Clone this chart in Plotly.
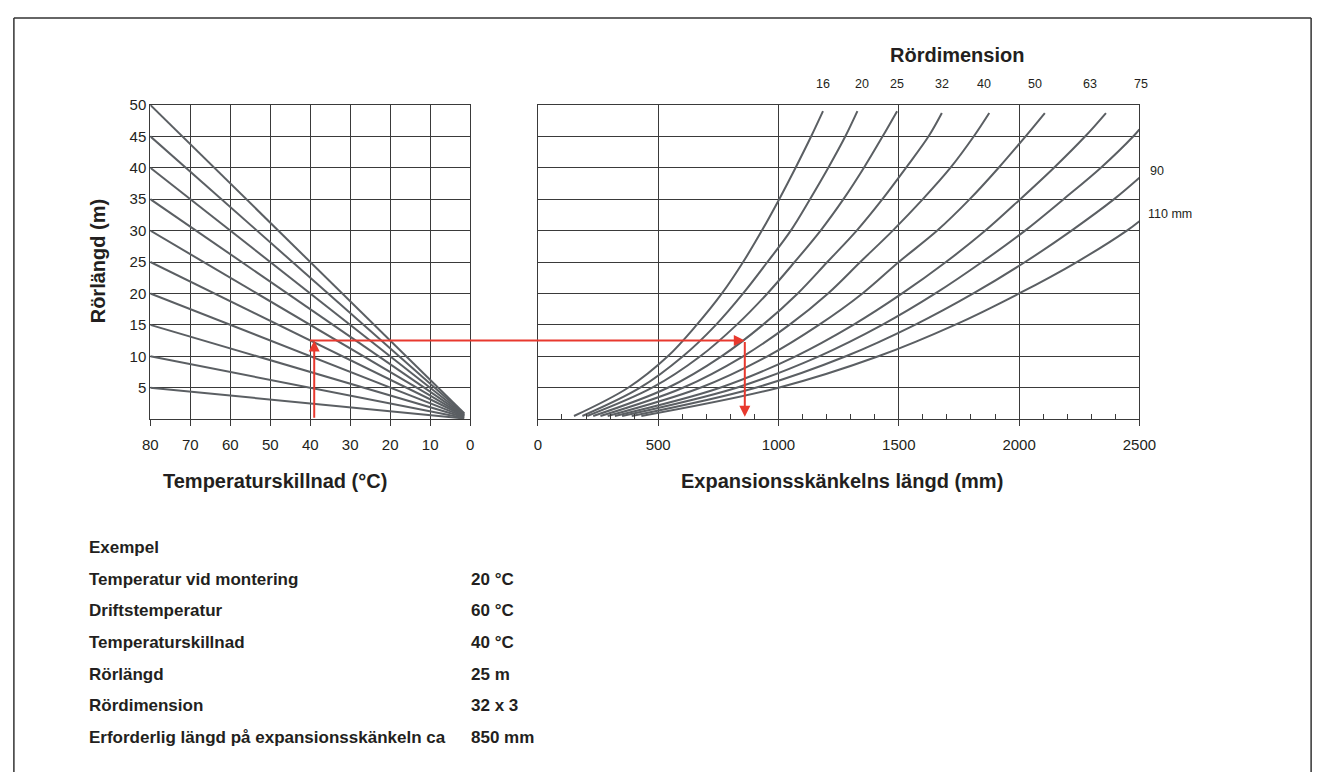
import plotly.graph_objects as go

W, H = 1334, 772

# ---------------- data ----------------
# Left chart: pipe length lines (m), running from dT=80 towards the convergence point
pipe_lengths = [5, 10, 15, 20, 25, 30, 35, 40, 45, 50]
left_start_dt = 80
left_end_dt = 1.5
left_end_y = [0.1, 0.2, 0.3, 0.4, 0.5, 0.55, 0.65, 0.75, 0.85, 0.95]

# Right chart: expansion arm length curves per pipe dimension
dims = ["16", "20", "25", "32", "40", "50", "63", "75", "90", "110"]
curve_y = {
    "16":  [0.5, 5, 10, 15, 20, 25, 30, 35, 40, 45, 49],
    "20":  [0.5, 5, 10, 15, 20, 25, 30, 35, 40, 45, 49],
    "25":  [0.5, 5, 10, 15, 20, 25, 30, 35, 40, 45, 49],
    "32":  [0.5, 5, 10, 15, 20, 25, 30, 35, 40, 45, 48.7],
    "40":  [0.5, 5, 10, 15, 20, 25, 30, 35, 40, 45, 48.7],
    "50":  [0.5, 5, 10, 15, 20, 25, 30, 35, 40, 45, 48.7],
    "63":  [0.5, 5, 10, 15, 20, 25, 30, 35, 40, 45, 48.7],
    "75":  [0.5, 5, 10, 15, 20, 25, 30, 35, 40, 45, 46.1],
    "90":  [0.5, 5, 10, 15, 20, 25, 30, 35, 38.4],
    "110": [0.5, 5, 10, 15, 20, 25, 30, 31.5],
}
curve_x = {
    "16":  [150, 375, 540, 660, 765, 853, 931, 1003, 1071, 1136, 1185],
    "20":  [185, 425, 603, 740, 853, 954, 1051, 1131, 1207, 1278, 1328],
    "25":  [205, 475, 675, 826, 954, 1067, 1175, 1270, 1355, 1433, 1493],
    "32":  [230, 540, 763, 935, 1080, 1203, 1325, 1432, 1530, 1624, 1679],
    "40":  [260, 603, 853, 1045, 1206, 1340, 1475, 1600, 1715, 1812, 1876],
    "50":  [290, 675, 954, 1168, 1349, 1500, 1660, 1795, 1915, 2027, 2107],
    "63":  [320, 757, 1071, 1311, 1514, 1696, 1860, 2005, 2145, 2275, 2361],
    "75":  [350, 826, 1168, 1431, 1652, 1846, 2025, 2185, 2340, 2475, 2500],
    "90":  [390, 905, 1280, 1567, 1810, 2025, 2218, 2395, 2500],
    "110": [430, 1000, 1415, 1733, 2000, 2240, 2448, 2500],
}

left_xticks = [80, 70, 60, 50, 40, 30, 20, 10, 0]
y_ticks = [5, 10, 15, 20, 25, 30, 35, 40, 45, 50]
right_xticks = [0, 500, 1000, 1500, 2000, 2500]

# Worked example
example_dt = 39
example_y = 12.5
example_arm = 860

table_labels = ["Temperatur vid montering", "Driftstemperatur", "Temperaturskillnad",
                "Rörlängd", "Rördimension", "Erforderlig längd på expansionsskänkeln ca"]
table_values = ["20 °C", "60 °C", "40 °C", "25 m", "32 x 3", "850 mm"]

# ---------------- layout helpers ----------------
def px(x):
    return x / W

def py(y):
    return 1 - y / H

L_X0, L_X1 = 145, 471
R_X0, R_X1 = 540, 1153
Y_TOP, Y_BOT = 97, 415

CURVE = "#5b5f63"
GRID = "#3a3a3a"
RED = "#e8392e"
TXT = "#231f20"
FONT = "Liberation Sans"

fig = go.Figure()

for h, ye in zip(pipe_lengths, left_end_y):
    fig.add_trace(go.Scatter(x=[left_start_dt, left_end_dt], y=[h, ye], mode="lines",
                             line=dict(color=CURVE, width=2), xaxis="x", yaxis="y",
                             hoverinfo="skip", showlegend=False))

for d in dims:
    fig.add_trace(go.Scatter(x=curve_x[d], y=curve_y[d], mode="lines",
                             line=dict(color=CURVE, width=2, shape="spline", smoothing=1.0),
                             xaxis="x2", yaxis="y2", name=d, showlegend=False))

axis_common = dict(showgrid=True, gridcolor=GRID, gridwidth=1, showline=True, mirror=True,
                   linecolor=GRID, linewidth=1, zeroline=False,
                   tickfont=dict(family=FONT, size=15, color=TXT))

fig.update_layout(
    width=W, height=H, margin=dict(l=0, r=0, t=0, b=0),
    paper_bgcolor="white", plot_bgcolor="white", showlegend=False,
    xaxis=dict(domain=[px(L_X0), px(L_X1)], range=[80, 0], tickvals=left_xticks,
               ticks="outside", ticklen=6, tickcolor=GRID, ticklabelstandoff=6, **axis_common),
    yaxis=dict(domain=[py(Y_BOT), py(Y_TOP)], range=[0, 50], tickvals=y_ticks,
               ticks="", **axis_common),
    xaxis2=dict(domain=[px(R_X0), px(R_X1)], range=[0, 2500], tickvals=right_xticks,
                ticks="outside", ticklen=6, tickcolor=GRID, ticklabelstandoff=6,
                minor=dict(ticks="inside", dtick=100, ticklen=5, tickcolor=GRID, showgrid=False),
                anchor="y2", **axis_common),
    yaxis2=dict(domain=[py(Y_BOT), py(Y_TOP)], range=[0, 50], tickvals=y_ticks,
                showticklabels=False, ticks="", anchor="x2", **axis_common),
)

# frame
for (x0, y0, x1, y1) in [(6, 9, 6, H + 5), (6, 9, 1328, 9), (1328, 9, 1328, H + 5)]:
    fig.add_shape(type="line", xref="paper", yref="paper", x0=px(x0), y0=py(y0),
                  x1=px(x1), y1=py(y1), line=dict(color="#333", width=1.5))

ann = []
def text(x, y, s, size=13, bold=False, xanchor="center", xref="paper", yref="paper", angle=0):
    ann.append(dict(x=x, y=y, xref=xref, yref=yref, text=f"<b>{s}</b>" if bold else s,
                    showarrow=False, xanchor=xanchor, yanchor="middle", textangle=angle,
                    font=dict(family=FONT, size=size, color=TXT)))

TITLE = 20
text(px(92), py(255), "Rörlängd (m)", size=TITLE, bold=True, angle=-90)
text(px(272), py(478), "Temperaturskillnad (°C)", size=TITLE, bold=True)
text(px(850), py(478), "Expansionsskänkelns längd (mm)", size=TITLE, bold=True)
text(px(967), py(47), "Rördimension", size=TITLE, bold=True)

top_label_px = [831, 870, 906, 952, 995, 1047, 1103, 1155]
for d, xl in zip(dims[:8], top_label_px):
    text(px(xl), py(76), d, size=12.5)
text(px(1162), py(164), dims[8], size=12.5, xanchor="left")
text(px(1160), py(207), dims[9] + " mm", size=12.5, xanchor="left")

# example table
row0, row_step = 545, 32
text(px(80), py(row0), "Exempel", size=17, bold=True, xanchor="left")
for i, (lab, val) in enumerate(zip(table_labels, table_values)):
    yy = row0 + row_step * (i + 1)
    text(px(80), py(yy), lab, size=17, bold=True, xanchor="left")
    text(px(470), py(yy), val, size=17, bold=True, xanchor="left")

# red example arrows
ann.append(dict(x=example_dt, y=example_y, xref="x", yref="y", ax=example_dt, ay=0,
                axref="x", ayref="y", showarrow=True, arrowhead=2, arrowsize=1.1,
                arrowwidth=2, arrowcolor=RED, text=""))
left_px = L_X0 + (80 - (example_dt - 0.6)) / 80 * (L_X1 - L_X0)
right_px = R_X0 + example_arm / 2500 * (R_X1 - R_X0)
ann.append(dict(x=example_arm, y=example_y, xref="x2", yref="y2", ax=-(right_px - left_px), ay=0,
                showarrow=True, arrowhead=2, arrowsize=1.1, arrowwidth=2, arrowcolor=RED, text=""))
ann.append(dict(x=example_arm, y=0.4, xref="x2", yref="y2", ax=example_arm, ay=example_y,
                axref="x2", ayref="y2", showarrow=True, arrowhead=2, arrowsize=1.1,
                arrowwidth=2, arrowcolor=RED, text=""))

fig.update_layout(annotations=ann)
fig.write_html("out.html", config={"displayModeBar": False},
               post_script="document.body.style.margin='0';document.body.style.overflow='hidden';")
